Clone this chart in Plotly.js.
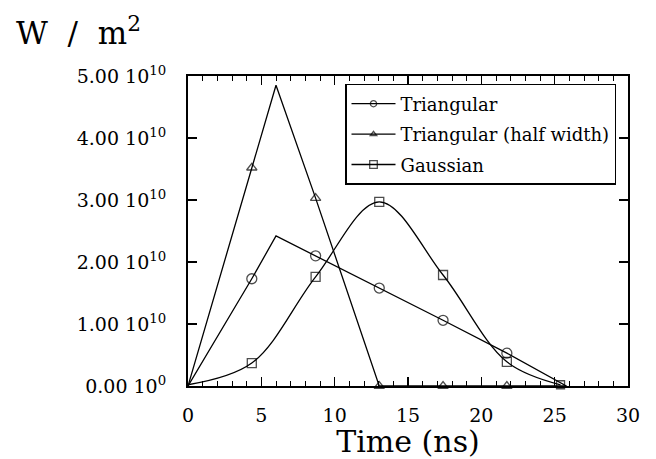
<!DOCTYPE html>
<html>
<head>
<meta charset="utf-8">
<script src="https://cdn.plot.ly/plotly-3.0.1.min.js"></script>
<style>html,body{margin:0;padding:0;background:#fff;}#chart{width:656px;height:459px;}</style>
</head>
<body>
<div id="chart"></div>
<script>
// Time (ns) and power density (W/m^2); points with marker size 0 are line vertices without a symbol
var triTime = [0, 4.35, 6.0, 8.7, 13.04, 17.39, 21.74, 25.8];
var triValue = [0, 1.73e10, 2.42e10, 2.10e10, 1.58e10, 1.06e10, 0.53e10, 0];
var triMarkerSize = [0, 10, 0, 10, 10, 10, 10, 0];

var halfTime = [0, 4.35, 6.0, 8.7, 13.04, 17.39, 21.74, 25.8];
var halfValue = [0, 3.52e10, 4.85e10, 3.03e10, 0, 0, 0, 0];
var halfMarkerSize = [0, 9, 0, 9, 9, 9, 9, 0];

var gaussTime = [0, 4.35, 8.7, 13.04, 17.39, 21.74, 25.4];
var gaussValue = [0.02e10, 0.37e10, 1.76e10, 2.97e10, 1.79e10, 0.39e10, 0.02e10];
var gaussMarkerSize = [0, 9, 9, 9, 9, 9, 8];

var seriesNames = ['Triangular', 'Triangular (half width)', 'Gaussian'];
var xTickVals = [0, 5, 10, 15, 20, 25, 30];
var yTickVals = [0, 1e10, 2e10, 3e10, 4e10, 5e10];
var yTickText = ['0.00&nbsp;10<sup>0</sup>', '1.00&nbsp;10<sup>10</sup>', '2.00&nbsp;10<sup>10</sup>',
                 '3.00&nbsp;10<sup>10</sup>', '4.00&nbsp;10<sup>10</sup>', '5.00&nbsp;10<sup>10</sup>'];

var FONT = 'DejaVu Serif, Liberation Serif, serif';
var symbols = ['circle-open', 'triangle-up-open', 'square-open'];

function seriesTrace(x, y, sizes, i, shape) {
  return {
    x: x, y: y, mode: 'lines+markers', name: seriesNames[i], legendgroup: 'g' + i,
    line: {color: '#000', width: 1.3, shape: shape || 'linear', smoothing: 1},
    marker: {symbol: symbols[i], size: sizes, color: '#000', line: {width: 1.3, color: '#000'}},
    cliponaxis: false, hoverinfo: 'skip'
  };
}

var data = [
  seriesTrace(triTime, triValue, triMarkerSize, 0),
  seriesTrace(halfTime, halfValue, halfMarkerSize, 1),
  seriesTrace(gaussTime, gaussValue, gaussMarkerSize, 2, 'spline')
];

var layout = {
  width: 656, height: 459,
  margin: {l: 188, r: 28, t: 76, b: 73, pad: 0},
  paper_bgcolor: '#fff', plot_bgcolor: '#fff',
  font: {family: FONT, color: '#000', size: 18},
  showlegend: true,
  title: {text: 'W&nbsp;&nbsp;/&nbsp;&nbsp;m<sup>2</sup>', font: {family: FONT, size: 31, color: '#000'},
          xref: 'container', yref: 'container', x: 16 / 656, xanchor: 'left', y: 1 - 33 / 459, yanchor: 'middle'},
  xaxis: {
    range: [0, 30], tickmode: 'array', tickvals: xTickVals, ticks: 'inside', ticklen: 9, tickwidth: 1.5, tickcolor: '#000',
    showline: true, linewidth: 2, linecolor: '#000', mirror: 'ticks', showgrid: false, zeroline: false,
    tickfont: {family: FONT, size: 19}, ticklabelstandoff: 11,
    minor: {tickmode: 'linear', tick0: 0, dtick: 1, ticks: 'inside', ticklen: 5, tickwidth: 1, tickcolor: '#000', showgrid: false},
    title: {text: 'Time (ns)', font: {family: FONT, size: 30}, standoff: 0}
  },
  yaxis: {
    range: [0, 5e10], tickmode: 'array', tickvals: yTickVals, ticktext: yTickText, ticks: 'inside', ticklen: 9, tickwidth: 1.5, tickcolor: '#000',
    showline: true, linewidth: 2, linecolor: '#000', mirror: 'ticks', showgrid: false, zeroline: false,
    tickfont: {family: FONT, size: 19}, ticklabelstandoff: 16
  },
  legend: {
    x: (345 - 188) / 440, y: (386.5 - 84) / 310.5, xanchor: 'left', yanchor: 'top',
    bgcolor: '#fff', bordercolor: '#000', borderwidth: 1.5,
    font: {family: FONT, size: 18, color: '#000'},
    traceorder: 'grouped', tracegroupgap: 4, itemwidth: 44
  }
};

Plotly.newPlot('chart', data, layout, {displayModeBar: false, staticPlot: true});
</script>
</body>
</html>
